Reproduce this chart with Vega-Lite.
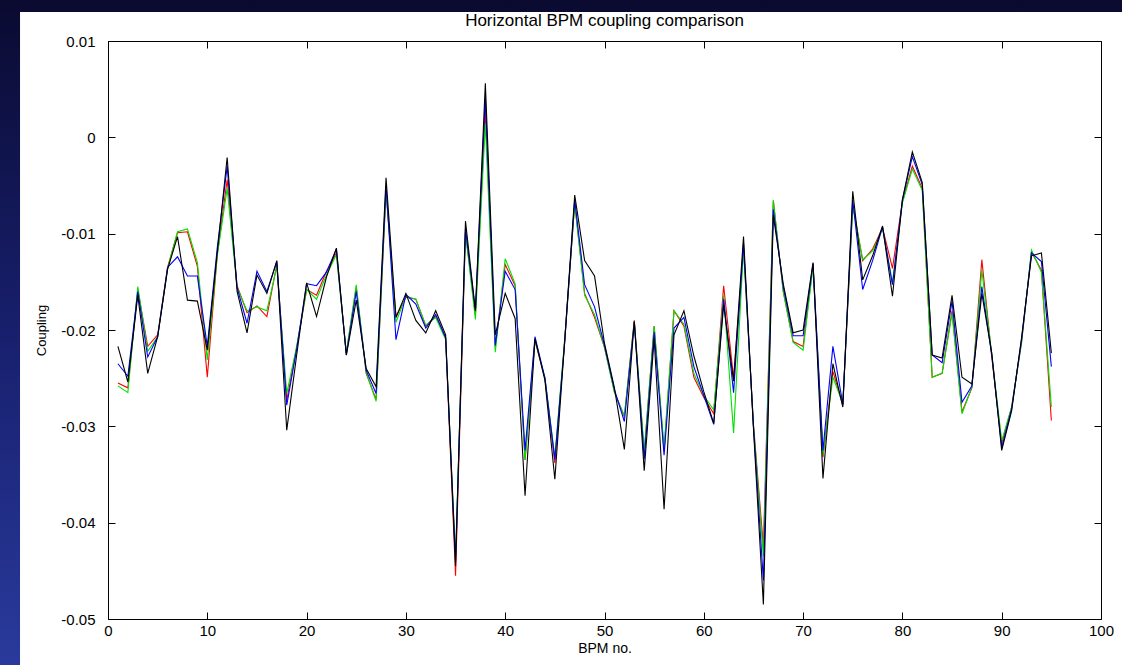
{
  "$schema": "https://vega.github.io/schema/vega-lite/v6.json",
  "autosize": "none",
  "width": 993,
  "height": 578,
  "padding": {"left": 108, "top": 41, "right": 21, "bottom": 46},
  "background": "#141a5a",
  "title": {"text": "Horizontal BPM coupling comparison", "font": "Liberation Sans", "fontSize": 17, "fontWeight": "normal", "color": "#000000", "anchor": "middle", "frame": "group", "offset": -32, "zindex": 2},
  "datasets": {
    "coupling": [
      {"bpm":1,"s1":-0.0217,"s2":-0.0235,"s3":-0.0255,"s4":-0.0258},
      {"bpm":2,"s1":-0.0254,"s2":-0.0248,"s3":-0.0260,"s4":-0.0265},
      {"bpm":3,"s1":-0.0164,"s2":-0.0160,"s3":-0.0158,"s4":-0.0155},
      {"bpm":4,"s1":-0.0245,"s2":-0.0228,"s3":-0.0217,"s4":-0.0222},
      {"bpm":5,"s1":-0.0207,"s2":-0.0207,"s3":-0.0205,"s4":-0.0207},
      {"bpm":6,"s1":-0.0137,"s2":-0.0135,"s3":-0.0135,"s4":-0.0136},
      {"bpm":7,"s1":-0.0103,"s2":-0.0124,"s3":-0.0099,"s4":-0.0098},
      {"bpm":8,"s1":-0.0169,"s2":-0.0144,"s3":-0.0098,"s4":-0.0095},
      {"bpm":9,"s1":-0.0170,"s2":-0.0144,"s3":-0.0134,"s4":-0.0130},
      {"bpm":10,"s1":-0.0221,"s2":-0.0217,"s3":-0.0249,"s4":-0.0231},
      {"bpm":11,"s1":-0.0120,"s2":-0.0115,"s3":-0.0122,"s4":-0.0123},
      {"bpm":12,"s1":-0.0021,"s2":-0.0030,"s3":-0.0044,"s4":-0.0053},
      {"bpm":13,"s1":-0.0160,"s2":-0.0156,"s3":-0.0154,"s4":-0.0156},
      {"bpm":14,"s1":-0.0203,"s2":-0.0193,"s3":-0.0182,"s4":-0.0180},
      {"bpm":15,"s1":-0.0143,"s2":-0.0139,"s3":-0.0175,"s4":-0.0176},
      {"bpm":16,"s1":-0.0162,"s2":-0.0160,"s3":-0.0186,"s4":-0.0180},
      {"bpm":17,"s1":-0.0128,"s2":-0.0129,"s3":-0.0132,"s4":-0.0134},
      {"bpm":18,"s1":-0.0304,"s2":-0.0278,"s3":-0.0273,"s4":-0.0266},
      {"bpm":19,"s1":-0.0226,"s2":-0.0220,"s3":-0.0218,"s4":-0.0217},
      {"bpm":20,"s1":-0.0151,"s2":-0.0152,"s3":-0.0158,"s4":-0.0158},
      {"bpm":21,"s1":-0.0186,"s2":-0.0154,"s3":-0.0164,"s4":-0.0168},
      {"bpm":22,"s1":-0.0145,"s2":-0.0140,"s3":-0.0139,"s4":-0.0143},
      {"bpm":23,"s1":-0.0115,"s2":-0.0116,"s3":-0.0120,"s4":-0.0122},
      {"bpm":24,"s1":-0.0226,"s2":-0.0226,"s3":-0.0224,"s4":-0.0224},
      {"bpm":25,"s1":-0.0169,"s2":-0.0160,"s3":-0.0156,"s4":-0.0153},
      {"bpm":26,"s1":-0.0240,"s2":-0.0242,"s3":-0.0245,"s4":-0.0244},
      {"bpm":27,"s1":-0.0259,"s2":-0.0266,"s3":-0.0272,"s4":-0.0274},
      {"bpm":28,"s1":-0.0042,"s2":-0.0050,"s3":-0.0056,"s4":-0.0054},
      {"bpm":29,"s1":-0.0187,"s2":-0.0210,"s3":-0.0186,"s4":-0.0192},
      {"bpm":30,"s1":-0.0162,"s2":-0.0163,"s3":-0.0166,"s4":-0.0165},
      {"bpm":31,"s1":-0.0190,"s2":-0.0173,"s3":-0.0168,"s4":-0.0168},
      {"bpm":32,"s1":-0.0203,"s2":-0.0198,"s3":-0.0196,"s4":-0.0195},
      {"bpm":33,"s1":-0.0180,"s2":-0.0184,"s3":-0.0185,"s4":-0.0187},
      {"bpm":34,"s1":-0.0205,"s2":-0.0208,"s3":-0.0208,"s4":-0.0210},
      {"bpm":35,"s1":-0.0445,"s2":-0.0440,"s3":-0.0455,"s4":-0.0435},
      {"bpm":36,"s1":-0.0087,"s2":-0.0095,"s3":-0.0098,"s4":-0.0099},
      {"bpm":37,"s1":-0.0180,"s2":-0.0180,"s3":-0.0184,"s4":-0.0189},
      {"bpm":38,"s1":0.0056,"s2":0.0041,"s3":0.0028,"s4":0.0014},
      {"bpm":39,"s1":-0.0205,"s2":-0.0216,"s3":-0.0218,"s4":-0.0223},
      {"bpm":40,"s1":-0.0162,"s2":-0.0139,"s3":-0.0132,"s4":-0.0126},
      {"bpm":41,"s1":-0.0188,"s2":-0.0158,"s3":-0.0154,"s4":-0.0152},
      {"bpm":42,"s1":-0.0372,"s2":-0.0325,"s3":-0.0335,"s4":-0.0335},
      {"bpm":43,"s1":-0.0209,"s2":-0.0207,"s3":-0.0211,"s4":-0.0210},
      {"bpm":44,"s1":-0.0252,"s2":-0.0250,"s3":-0.0250,"s4":-0.0250},
      {"bpm":45,"s1":-0.0355,"s2":-0.0334,"s3":-0.0338,"s4":-0.0332},
      {"bpm":46,"s1":-0.0210,"s2":-0.0212,"s3":-0.0210,"s4":-0.0208},
      {"bpm":47,"s1":-0.0060,"s2":-0.0065,"s3":-0.0068,"s4":-0.0069},
      {"bpm":48,"s1":-0.0128,"s2":-0.0153,"s3":-0.0162,"s4":-0.0164},
      {"bpm":49,"s1":-0.0144,"s2":-0.0176,"s3":-0.0187,"s4":-0.0184},
      {"bpm":50,"s1":-0.0214,"s2":-0.0216,"s3":-0.0218,"s4":-0.0218},
      {"bpm":51,"s1":-0.0260,"s2":-0.0262,"s3":-0.0264,"s4":-0.0265},
      {"bpm":52,"s1":-0.0324,"s2":-0.0295,"s3":-0.0290,"s4":-0.0289},
      {"bpm":53,"s1":-0.0191,"s2":-0.0192,"s3":-0.0190,"s4":-0.0191},
      {"bpm":54,"s1":-0.0346,"s2":-0.0334,"s3":-0.0328,"s4":-0.0326},
      {"bpm":55,"s1":-0.0209,"s2":-0.0202,"s3":-0.0196,"s4":-0.0196},
      {"bpm":56,"s1":-0.0386,"s2":-0.0330,"s3":-0.0326,"s4":-0.0322},
      {"bpm":57,"s1":-0.0205,"s2":-0.0198,"s3":-0.0180,"s4":-0.0180},
      {"bpm":58,"s1":-0.0180,"s2":-0.0187,"s3":-0.0196,"s4":-0.0194},
      {"bpm":59,"s1":-0.0227,"s2":-0.0238,"s3":-0.0249,"s4":-0.0245},
      {"bpm":60,"s1":-0.0264,"s2":-0.0268,"s3":-0.0270,"s4":-0.0268},
      {"bpm":61,"s1":-0.0297,"s2":-0.0298,"s3":-0.0287,"s4":-0.0283},
      {"bpm":62,"s1":-0.0174,"s2":-0.0168,"s3":-0.0154,"s4":-0.0164},
      {"bpm":63,"s1":-0.0253,"s2":-0.0265,"s3":-0.0250,"s4":-0.0307},
      {"bpm":64,"s1":-0.0103,"s2":-0.0110,"s3":-0.0115,"s4":-0.0115},
      {"bpm":65,"s1":-0.0302,"s2":-0.0300,"s3":-0.0298,"s4":-0.0299},
      {"bpm":66,"s1":-0.0485,"s2":-0.0460,"s3":-0.0425,"s4":-0.0435},
      {"bpm":67,"s1":-0.0081,"s2":-0.0075,"s3":-0.0066,"s4":-0.0065},
      {"bpm":68,"s1":-0.0152,"s2":-0.0155,"s3":-0.0160,"s4":-0.0160},
      {"bpm":69,"s1":-0.0203,"s2":-0.0206,"s3":-0.0212,"s4":-0.0213},
      {"bpm":70,"s1":-0.0200,"s2":-0.0206,"s3":-0.0217,"s4":-0.0221},
      {"bpm":71,"s1":-0.0130,"s2":-0.0131,"s3":-0.0132,"s4":-0.0134},
      {"bpm":72,"s1":-0.0354,"s2":-0.0325,"s3":-0.0332,"s4":-0.0330},
      {"bpm":73,"s1":-0.0235,"s2":-0.0217,"s3":-0.0243,"s4":-0.0249},
      {"bpm":74,"s1":-0.0280,"s2":-0.0277,"s3":-0.0278,"s4":-0.0276},
      {"bpm":75,"s1":-0.0056,"s2":-0.0065,"s3":-0.0070,"s4":-0.0071},
      {"bpm":76,"s1":-0.0148,"s2":-0.0158,"s3":-0.0128,"s4":-0.0127},
      {"bpm":77,"s1":-0.0123,"s2":-0.0128,"s3":-0.0116,"s4":-0.0118},
      {"bpm":78,"s1":-0.0092,"s2":-0.0093,"s3":-0.0094,"s4":-0.0095},
      {"bpm":79,"s1":-0.0165,"s2":-0.0153,"s3":-0.0136,"s4":-0.0151},
      {"bpm":80,"s1":-0.0065,"s2":-0.0065,"s3":-0.0067,"s4":-0.0068},
      {"bpm":81,"s1":-0.0015,"s2":-0.0020,"s3":-0.0030,"s4":-0.0033},
      {"bpm":82,"s1":-0.0047,"s2":-0.0049,"s3":-0.0053,"s4":-0.0055},
      {"bpm":83,"s1":-0.0226,"s2":-0.0226,"s3":-0.0249,"s4":-0.0249},
      {"bpm":84,"s1":-0.0229,"s2":-0.0234,"s3":-0.0245,"s4":-0.0245},
      {"bpm":85,"s1":-0.0164,"s2":-0.0170,"s3":-0.0180,"s4":-0.0183},
      {"bpm":86,"s1":-0.0249,"s2":-0.0275,"s3":-0.0285,"s4":-0.0287},
      {"bpm":87,"s1":-0.0256,"s2":-0.0258,"s3":-0.0260,"s4":-0.0259},
      {"bpm":88,"s1":-0.0162,"s2":-0.0155,"s3":-0.0127,"s4":-0.0138},
      {"bpm":89,"s1":-0.0224,"s2":-0.0226,"s3":-0.0228,"s4":-0.0225},
      {"bpm":90,"s1":-0.0325,"s2":-0.0322,"s3":-0.0318,"s4":-0.0315},
      {"bpm":91,"s1":-0.0284,"s2":-0.0282,"s3":-0.0280,"s4":-0.0280},
      {"bpm":92,"s1":-0.0208,"s2":-0.0210,"s3":-0.0213,"s4":-0.0213},
      {"bpm":93,"s1":-0.0123,"s2":-0.0120,"s3":-0.0119,"s4":-0.0117},
      {"bpm":94,"s1":-0.0120,"s2":-0.0129,"s3":-0.0138,"s4":-0.0140},
      {"bpm":95,"s1":-0.0224,"s2":-0.0238,"s3":-0.0294,"s4":-0.0280}
    ]
  },
  "layer": [
    {
      "data": {"values": [{"panel": "slide"}]},
      "mark": {"type": "rect", "fill": {"gradient": "linear", "x1": 0, "y1": 0, "x2": 0, "y2": 1, "stops": [{"offset": 0, "color": "#0a0a30"}, {"offset": 0.5, "color": "#18206e"}, {"offset": 1, "color": "#2a3b9e"}]}},
      "encoding": {
        "x": {"datum": -11, "type": "quantitative", "scale": {"domain": [0, 100], "nice": false, "zero": false}, "axis": null},
        "x2": {"datum": 103},
        "y": {"datum": 0.0145, "type": "quantitative", "scale": {"domain": [-0.05, 0.01], "nice": false, "zero": false}, "axis": null},
        "y2": {"datum": -0.056}
      }
    },
    {
      "data": {"values": [{"panel": "figure"}]},
      "mark": {"type": "rect", "fill": "#ffffff"},
      "encoding": {
        "x": {"datum": -8.86, "type": "quantitative", "scale": {"domain": [0, 100], "nice": false, "zero": false},
              "axis": {"orient": "top", "values": [0,10,20,30,40,50,60,70,80,90,100], "labels": false, "title": null, "tickSize": -7, "domainColor": "#000000", "tickColor": "#000000", "grid": false, "zindex": 1}},
        "x2": {"datum": 103},
        "y": {"datum": 0.01301, "type": "quantitative", "scale": {"domain": [-0.05, 0.01], "nice": false, "zero": false},
              "axis": {"orient": "right", "values": [0.01,0,-0.01,-0.02,-0.03,-0.04,-0.05], "labels": false, "title": null, "tickSize": -7, "domainColor": "#000000", "tickColor": "#000000", "grid": false, "zindex": 1}},
        "y2": {"datum": -0.056}
      }
    },
    {
      "data": {"name": "coupling"},
      "transform": [{"fold": ["s3", "s4", "s2", "s1"], "as": ["series", "coupling"]}],
      "mark": {"type": "line", "strokeWidth": 1.1},
      "encoding": {
        "x": {"field": "bpm", "type": "quantitative", "scale": {"domain": [0, 100], "nice": false, "zero": false},
              "axis": {"orient": "bottom", "values": [0,10,20,30,40,50,60,70,80,90,100], "title": "BPM no.", "tickSize": -7, "labelPadding": 11, "titlePadding": 3, "domainColor": "#000000", "tickColor": "#000000", "labelColor": "#000000", "titleColor": "#000000", "labelFont": "Liberation Sans", "labelFontSize": 15, "titleFont": "Liberation Sans", "titleFontSize": 14, "titleFontWeight": "normal", "grid": false, "labelFlush": false, "labelOverlap": false, "zindex": 1}},
        "y": {"field": "coupling", "type": "quantitative", "scale": {"domain": [-0.05, 0.01], "nice": false, "zero": false},
              "axis": {"orient": "left", "values": [0.01,0,-0.01,-0.02,-0.03,-0.04,-0.05], "labelExpr": "replace(format(datum.value, '~g'), '\u2212', '-')", "title": "Coupling", "tickSize": -7, "labelPadding": 20, "titlePadding": 12, "domainColor": "#000000", "tickColor": "#000000", "labelColor": "#000000", "titleColor": "#000000", "labelFont": "Liberation Sans", "labelFontSize": 15, "titleFont": "Liberation Sans", "titleFontSize": 13, "titleFontWeight": "normal", "grid": false, "labelFlush": false, "labelOverlap": false, "zindex": 1}},
        "color": {"field": "series", "type": "nominal", "scale": {"domain": ["s3", "s4", "s2", "s1"], "range": ["#ff0000", "#00e000", "#0000ff", "#000000"]}, "legend": null}
      }
    }
  ],
  "resolve": {"axis": {"x": "independent", "y": "independent"}},
  "config": {"view": {"stroke": "#000000"}}
}
